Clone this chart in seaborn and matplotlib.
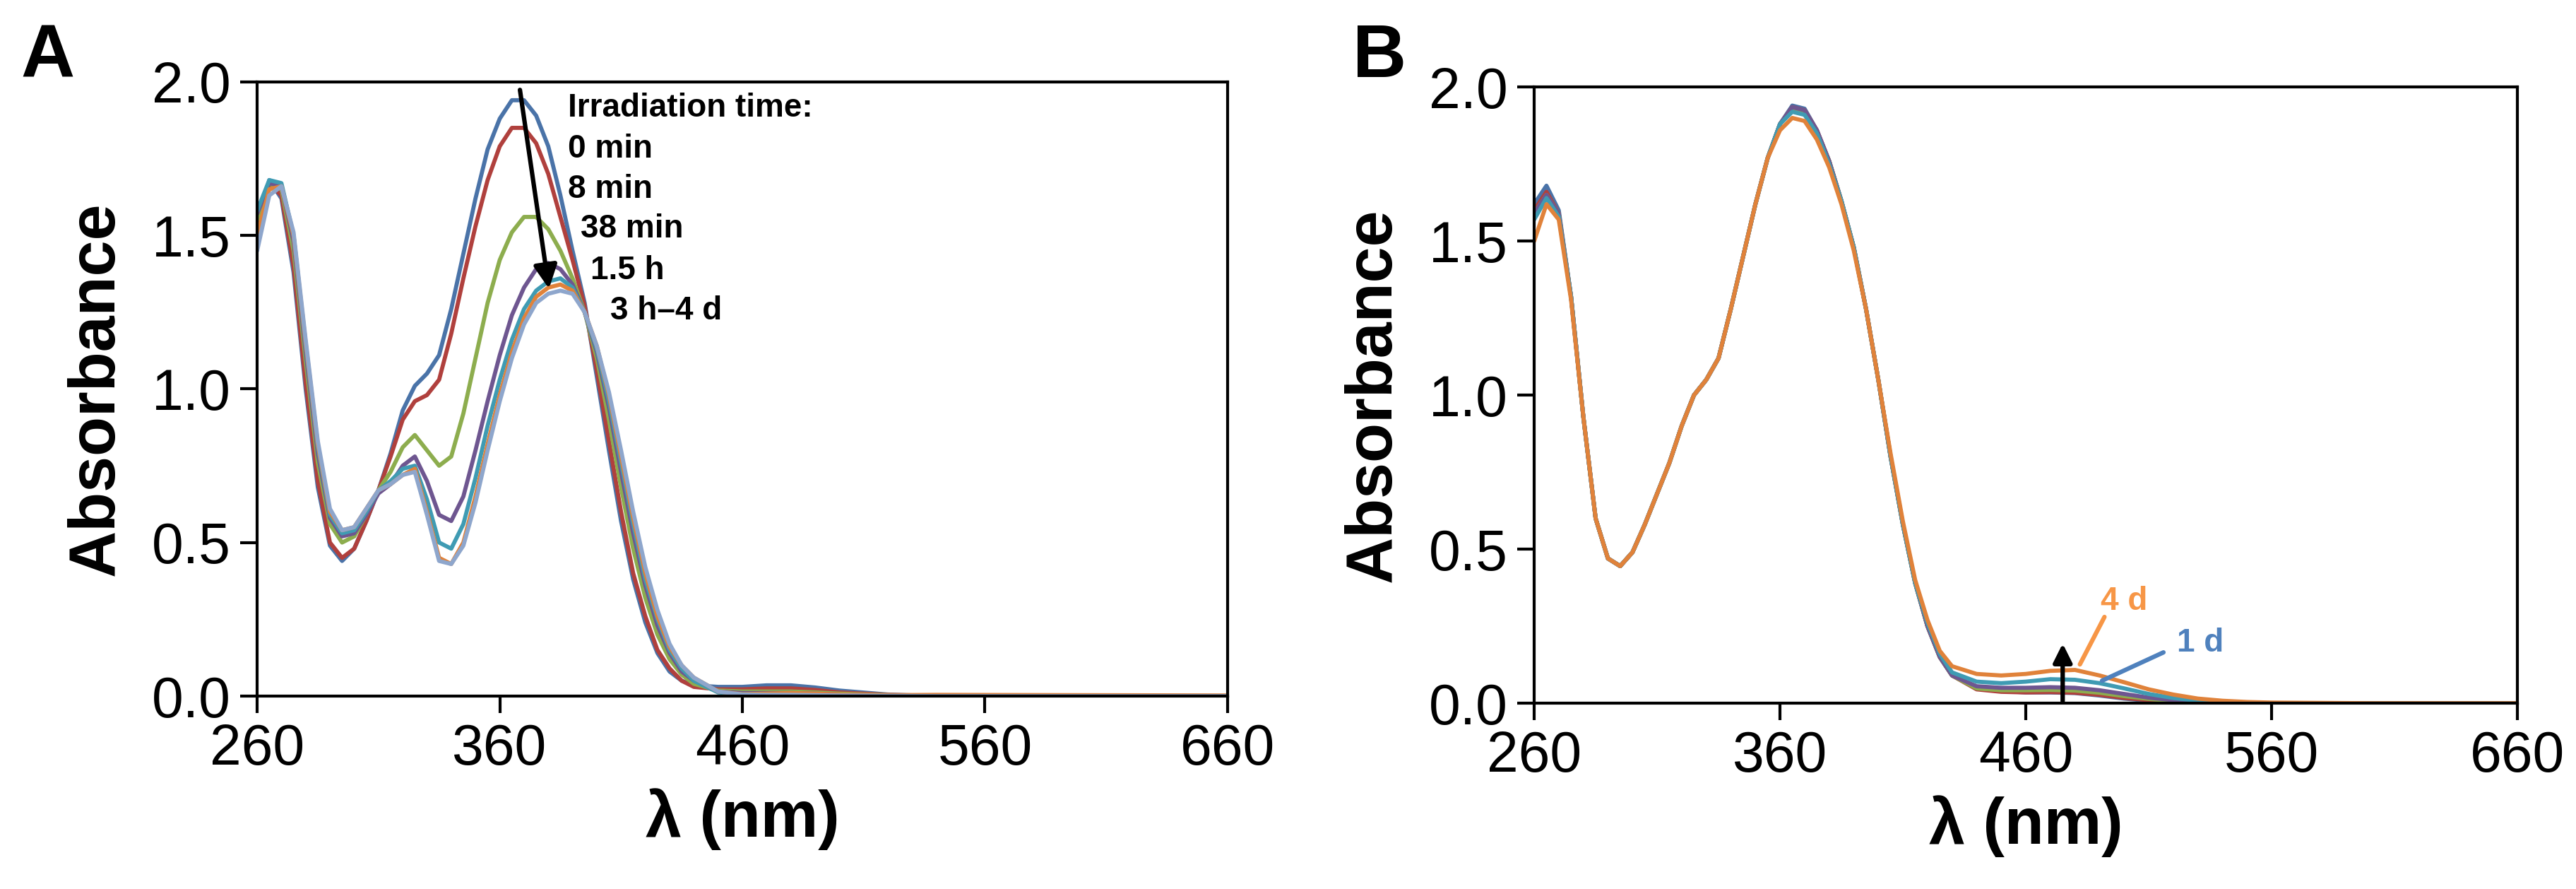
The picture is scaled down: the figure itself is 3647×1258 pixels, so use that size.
import numpy as np
import pandas as pd
import matplotlib
matplotlib.use("Agg")
import matplotlib.pyplot as plt
import seaborn as sns

# ---- Panel A: irradiation series ----
wl_a = [260, 265, 270, 275, 280, 285, 290, 295, 300, 305, 310, 315, 320, 325, 330, 335,
        340, 345, 350, 355, 360, 365, 370, 375, 380, 385, 390, 395, 400, 405, 410, 415,
        420, 425, 430, 435, 440, 450, 460, 470, 480, 490, 500, 520, 540, 600, 660]

a_0min = [1.50, 1.68, 1.62, 1.38, 1.00, 0.68, 0.49, 0.44, 0.48, 0.57, 0.67, 0.79, 0.93, 1.01, 1.05, 1.11,
          1.26, 1.44, 1.62, 1.78, 1.88, 1.94, 1.94, 1.89, 1.79, 1.63, 1.45, 1.28, 1.04, 0.80, 0.57, 0.38,
          0.24, 0.14, 0.08, 0.05, 0.035, 0.03, 0.03, 0.035, 0.035, 0.028, 0.018, 0.005, 0.0, 0.0, 0.0]
a_8min = [1.52, 1.67, 1.63, 1.40, 1.02, 0.70, 0.50, 0.45, 0.48, 0.57, 0.67, 0.78, 0.90, 0.96, 0.98, 1.03,
          1.18, 1.36, 1.53, 1.68, 1.79, 1.85, 1.85, 1.80, 1.70, 1.56, 1.42, 1.27, 1.06, 0.83, 0.60, 0.40,
          0.26, 0.15, 0.09, 0.05, 0.03, 0.022, 0.022, 0.025, 0.025, 0.02, 0.012, 0.004, 0.0, 0.0, 0.0]
a_38min = [1.55, 1.67, 1.65, 1.45, 1.09, 0.76, 0.56, 0.50, 0.52, 0.59, 0.67, 0.73, 0.81, 0.85, 0.80, 0.75,
           0.78, 0.92, 1.10, 1.28, 1.42, 1.51, 1.56, 1.56, 1.52, 1.45, 1.36, 1.25, 1.10, 0.90, 0.68, 0.48,
           0.32, 0.20, 0.12, 0.07, 0.04, 0.018, 0.015, 0.015, 0.015, 0.012, 0.008, 0.003, 0.0, 0.0, 0.0]
a_1_5h = [1.57, 1.67, 1.66, 1.48, 1.12, 0.79, 0.58, 0.52, 0.53, 0.59, 0.66, 0.69, 0.75, 0.78, 0.70, 0.59,
          0.57, 0.65, 0.80, 0.96, 1.11, 1.24, 1.33, 1.39, 1.41, 1.39, 1.34, 1.25, 1.12, 0.94, 0.73, 0.53,
          0.36, 0.23, 0.14, 0.08, 0.05, 0.015, 0.01, 0.01, 0.01, 0.008, 0.005, 0.002, 0.0, 0.0, 0.0]
a_3h = [1.58, 1.68, 1.67, 1.50, 1.14, 0.81, 0.59, 0.53, 0.54, 0.60, 0.67, 0.70, 0.74, 0.75, 0.64, 0.50,
        0.48, 0.56, 0.71, 0.88, 1.03, 1.16, 1.26, 1.32, 1.35, 1.36, 1.33, 1.25, 1.13, 0.96, 0.76, 0.56,
        0.38, 0.25, 0.15, 0.09, 0.05, 0.012, 0.006, 0.005, 0.005, 0.004, 0.002, 0.0, 0.0, 0.0, 0.0]
a_1d = [1.50, 1.65, 1.66, 1.50, 1.15, 0.82, 0.60, 0.54, 0.55, 0.61, 0.67, 0.69, 0.72, 0.74, 0.60, 0.45,
        0.43, 0.50, 0.65, 0.82, 0.98, 1.12, 1.23, 1.30, 1.33, 1.34, 1.32, 1.25, 1.14, 0.98, 0.78, 0.58,
        0.40, 0.26, 0.16, 0.10, 0.06, 0.015, 0.006, 0.008, 0.01, 0.008, 0.005, 0.003, 0.004, 0.003, 0.002]
a_4d = [1.45, 1.63, 1.66, 1.51, 1.16, 0.83, 0.61, 0.54, 0.55, 0.61, 0.67, 0.69, 0.72, 0.73, 0.59, 0.44,
        0.43, 0.49, 0.63, 0.80, 0.96, 1.10, 1.21, 1.28, 1.31, 1.32, 1.31, 1.25, 1.14, 0.99, 0.80, 0.60,
        0.42, 0.28, 0.17, 0.10, 0.06, 0.015, 0.005, 0.004, 0.004, 0.003, 0.002, 0.001, 0.0, 0.0, 0.0]
series_a = {"0 min": a_0min, "8 min": a_8min, "38 min": a_38min, "1.5 h": a_1_5h,
            "3 h": a_3h, "1 d": a_1d, "4 d": a_4d}
colors_a = ["#4A73A8", "#B0403D", "#8DAD4E", "#6E5690", "#3F9BB3", "#E0823A", "#8EA6CC"]
labels_a = ["Irradiation time:", "0 min", "8 min", "38 min", "1.5 h", "3 h\u20134 d"]

# ---- Panel B: dark storage series ----
wl_b = [260, 265, 270, 275, 280, 285, 290, 295, 300, 305, 310, 315, 320, 325, 330, 335,
        340, 345, 350, 355, 360, 365, 370, 375, 380, 385, 390, 395, 400, 405, 410, 415,
        420, 425, 430, 440, 450, 460, 470, 480, 490, 500, 510, 520, 530, 540, 550, 560, 600, 660]

b_core = [0.93, 0.60, 0.47, 0.445, 0.49, 0.58, 0.68, 0.78, 0.90, 1.00, 1.05, 1.12,
          1.28, 1.45, 1.62, 1.77, 1.88]
b_s1 = [1.62, 1.68, 1.60, 1.32] + b_core + [1.94, 1.93, 1.86, 1.76, 1.63, 1.48, 1.28, 1.05, 0.80, 0.58, 0.39,
        0.25, 0.15, 0.09, 0.05, 0.04, 0.035, 0.035, 0.033, 0.025, 0.015, 0.008, 0.004, 0.002, 0.001, 0.0, 0.0, 0.0, 0.0]
b_s2 = [1.60, 1.66, 1.59, 1.32] + b_core + [1.935, 1.925, 1.86, 1.76, 1.63, 1.48, 1.28, 1.05, 0.80, 0.58, 0.39,
        0.25, 0.15, 0.09, 0.045, 0.037, 0.035, 0.036, 0.034, 0.027, 0.017, 0.01, 0.005, 0.002, 0.0, 0.0, 0.0, 0.0, 0.0]
b_s3 = [1.59, 1.65, 1.59, 1.32] + b_core + [1.93, 1.92, 1.855, 1.76, 1.63, 1.48, 1.28, 1.05, 0.80, 0.58, 0.39,
        0.25, 0.15, 0.09, 0.048, 0.042, 0.042, 0.043, 0.041, 0.034, 0.023, 0.014, 0.007, 0.003, 0.001, 0.0, 0.0, 0.0, 0.0]
b_s4 = [1.59, 1.65, 1.59, 1.32] + b_core + [1.935, 1.925, 1.86, 1.76, 1.63, 1.48, 1.28, 1.05, 0.80, 0.58, 0.39,
        0.25, 0.15, 0.09, 0.055, 0.05, 0.05, 0.052, 0.05, 0.042, 0.03, 0.018, 0.01, 0.005, 0.002, 0.0, 0.0, 0.0, 0.0]
b_s5 = [1.57, 1.64, 1.58, 1.32] + b_core + [1.92, 1.91, 1.85, 1.75, 1.63, 1.48, 1.28, 1.05, 0.80, 0.58, 0.39,
        0.26, 0.16, 0.10, 0.07, 0.065, 0.07, 0.078, 0.076, 0.065, 0.048, 0.03, 0.017, 0.008, 0.004, 0.002, 0.0, 0.0, 0.0]
b_s6 = [1.50, 1.62, 1.57, 1.31] + b_core[:-1] + [1.86, 1.90, 1.89, 1.83, 1.74, 1.62, 1.47, 1.28, 1.05, 0.81, 0.59, 0.40,
        0.27, 0.17, 0.12, 0.095, 0.09, 0.095, 0.105, 0.108, 0.09, 0.068, 0.045, 0.028, 0.015, 0.008, 0.004, 0.002, 0.0, 0.0]
series_b = {"0 d": b_s1, "s2": b_s2, "s3": b_s3, "s4": b_s4, "1 d": b_s5, "4 d": b_s6}
colors_b = ["#4A73A8", "#B0403D", "#8DAD4E", "#6E5690", "#3F9BB3", "#E0823A"]


def long_table(wl, series):
    rows = []
    for name, vals in series.items():
        rows.append(pd.DataFrame({"wl": wl, "abs": vals, "series": name}))
    return pd.concat(rows, ignore_index=True)


sns.set_style("ticks")
plt.rcParams["font.family"] = ["Liberation Sans", "DejaVu Sans"]
plt.rcParams["axes.linewidth"] = 3
for k in ["text.color", "axes.labelcolor", "xtick.color", "ytick.color", "axes.edgecolor"]:
    plt.rcParams[k] = "black"

fig = plt.figure(figsize=(36.48, 12.58), dpi=100)
ax_a = fig.add_axes([0.0998, 0.217, 0.3766, 0.691])
ax_b = fig.add_axes([0.5954, 0.209, 0.3816, 0.693])

for ax, wl, series, pal in [(ax_a, wl_a, series_a, colors_a), (ax_b, wl_b, series_b, colors_b)]:
    df = long_table(wl, series)
    sns.lineplot(data=df, x="wl", y="abs", hue="series", palette=pal, sort=False,
                 linewidth=4.2, legend=False, ax=ax)
    ax.set_xlim(260, 660)
    ax.set_ylim(0, 2.0)
    ax.set_xticks([260, 360, 460, 560, 660])
    ax.set_yticks([0.0, 0.5, 1.0, 1.5, 2.0])
    ax.set_yticklabels(["0.0", "0.5", "1.0", "1.5", "2.0"])
    ax.tick_params(direction="out", length=17, width=3, labelsize=58, pad=10)
    ax.set_xlabel("\u03bb (nm)", fontsize=66, fontweight="bold", labelpad=12)
    ax.set_ylabel("Absorbance", fontsize=66, fontweight="bold", labelpad=25)
    for s in ax.spines.values():
        s.set_visible(True)

# annotations panel A
ax_a.annotate("", xy=(380.4, 1.32), xytext=(368.2, 1.98),
              arrowprops=dict(arrowstyle="-|>", color="black", lw=4.5, mutation_scale=50))
pos_a = [(388.2, 1.915), (388.2, 1.78), (388.2, 1.65), (393.2, 1.52), (397.5, 1.385), (405.5, 1.254)]
for (x, y), t in zip(pos_a, labels_a):
    ax_a.text(x, y, t, fontsize=33, fontweight="bold", va="center", ha="left")

# annotations panel B
ax_b.annotate("", xy=(475, 0.20), xytext=(475, 0.0),
              arrowprops=dict(arrowstyle="-|>", color="black", lw=4.5, mutation_scale=40))
ax_b.plot([482, 492], [0.126, 0.28], color="#F79646", lw=4.5)
ax_b.plot([491, 516], [0.073, 0.165], color="#4F81BD", lw=4.5)
ax_b.text(500, 0.33, "4 d", color="#F79646", fontsize=33, fontweight="bold", ha="center", va="center")
ax_b.text(531, 0.195, "1 d", color="#4F81BD", fontsize=33, fontweight="bold", ha="center", va="center")

fig.text(0.008, 0.935, "A", fontsize=76, fontweight="bold", va="center")
fig.text(0.525, 0.935, "B", fontsize=76, fontweight="bold", va="center")

fig.savefig("out.png", dpi=100)
